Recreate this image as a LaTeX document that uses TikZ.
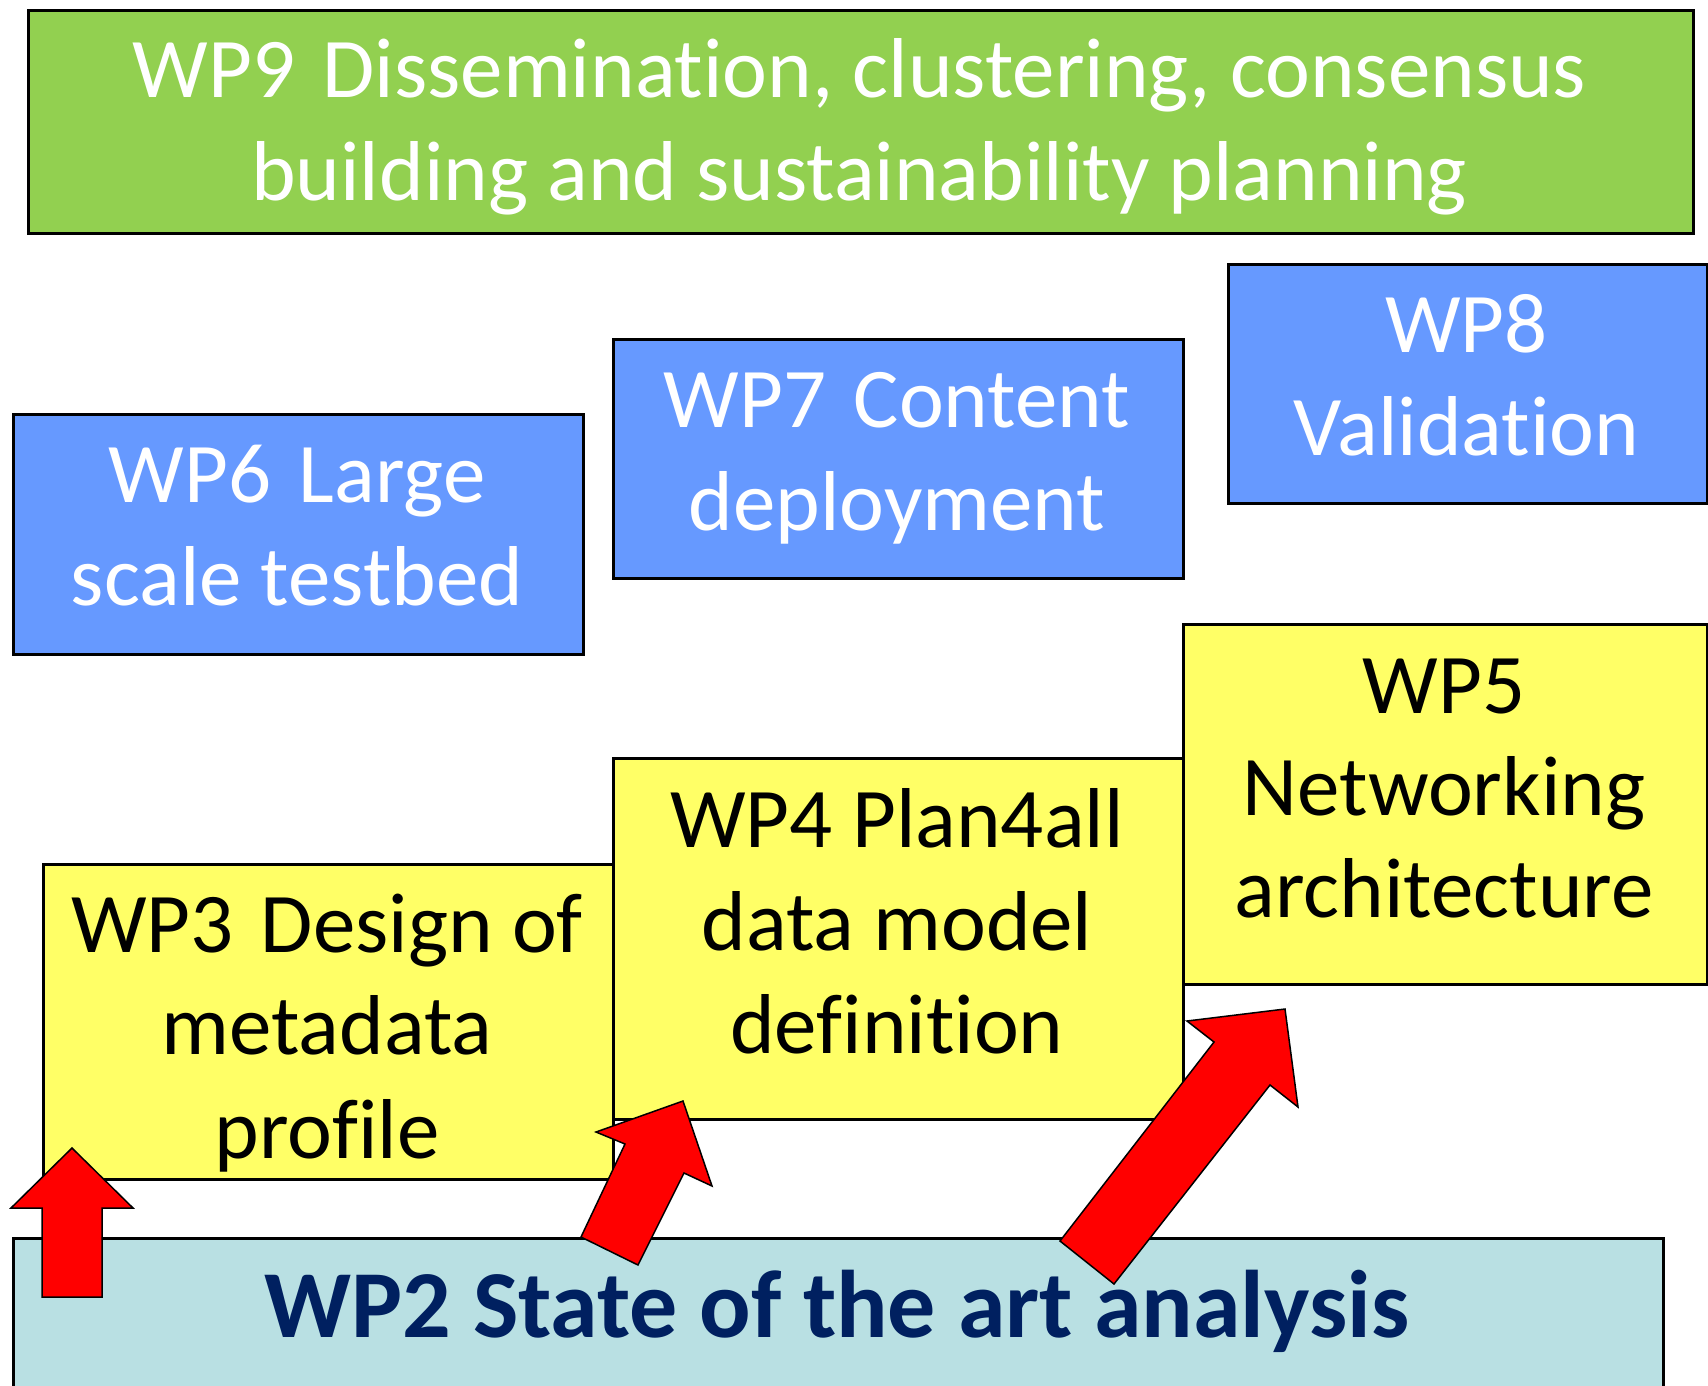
\documentclass[tikz,border=0pt]{standalone}
\usepackage{fontspec}
\setmainfont[Ligatures={NoCommon,NoContextual}]{Carlito}
\definecolor{wpgreen}{HTML}{92D050}
\definecolor{wpblue}{HTML}{6699FF}
\definecolor{wpyellow}{HTML}{FFFF66}
\definecolor{wpcyan}{HTML}{B9E0E3}
\definecolor{wpnavy}{HTML}{002060}
\definecolor{wpred}{HTML}{FF0000}
\newcommand\wpgap{\hspace{0.32em}}
\begin{document}
\begin{tikzpicture}[x=1pt,y=-1pt,
  box/.style={draw=black, line width=2.5pt, inner sep=0pt, anchor=north west},
  lbl/.style={anchor=base, inner sep=0pt, font=\fontsize{85}{103}\selectfont},
  wlbl/.style={lbl, text=white},
  blbl/.style={lbl, text=black},
  redarrow/.style={fill=wpred, draw=black, line width=1.5pt, line join=miter}]
\useasboundingbox (0,0) rectangle (1708,1385);
\clip (0,0) rectangle (1708,1385);
% boxes
\node[box, fill=wpgreen, minimum width=1665pt, minimum height=223pt] (wp9) at (27,9) {};
\node[box, fill=wpblue, minimum width=479pt, minimum height=239pt] (wp8) at (1227,263) {};
\node[box, fill=wpblue, minimum width=570pt, minimum height=239pt] (wp7) at (612,338) {};
\node[box, fill=wpblue, minimum width=570pt, minimum height=240pt] (wp6) at (12,413) {};
\node[box, fill=wpyellow, minimum width=570pt, minimum height=315pt] (wp3) at (42,863) {};
\node[box, fill=wpyellow, minimum width=570pt, minimum height=361pt] (wp4) at (612,757) {};
\node[box, fill=wpyellow, minimum width=524pt, minimum height=360pt] (wp5) at (1182,623) {};
\node[box, fill=wpcyan, minimum width=1650pt, minimum height=220pt] (wp2) at (12,1237) {};
% texts
\node[wlbl] (t9a) at (859.5,97) {WP9\wpgap Dissemination, clustering, consensus};
\node[wlbl] (t9b) at (859.5,200) {building and sustainability planning};
\node[wlbl] (t8a) at (1466.5,352) {WP8};
\node[wlbl] (t8b) at (1466.5,455) {Validation};
\node[wlbl] (t7a) at (897,427) {WP7\wpgap Content};
\node[wlbl] (t7b) at (897,530) {deployment};
\node[wlbl] (t6a) at (297,502) {WP6\wpgap Large};
\node[wlbl] (t6b) at (297,605) {scale testbed};
\node[blbl] (t5a) at (1444,713) {WP5};
\node[blbl] (t5b) at (1444,815) {Networking};
\node[blbl] (t5c) at (1444,917) {architecture};
\node[blbl] (t4a) at (897,847) {WP4 Plan4all};
\node[blbl] (t4b) at (897,950) {data model};
\node[blbl] (t4c) at (897,1053) {definition};
\node[blbl] (t3a) at (327,952) {WP3\wpgap Design of};
\node[blbl] (t3b) at (327,1054) {metadata};
\node[blbl] (t3c) at (327,1158) {profile};
\node[anchor=base, inner sep=0pt, text=wpnavy, font=\fontsize{96}{115}\selectfont\bfseries] (t2) at (837,1337) {WP2 State of the art analysis};
% arrows
\draw[redarrow] (72,1148) -- (133,1208) -- (102,1208) -- (102,1297) -- (42,1297) -- (42,1208) -- (11,1208) -- cycle;
\draw[redarrow] (683,1101) -- (712,1186) -- (684,1173) -- (638,1265) -- (581,1237) -- (625,1144) -- (596,1132) -- cycle;
\draw[redarrow] (1285,1009) -- (1298,1107) -- (1270,1085) -- (1114,1284) -- (1060,1241) -- (1214,1042) -- (1187,1021) -- cycle;
\end{tikzpicture}
\end{document}
